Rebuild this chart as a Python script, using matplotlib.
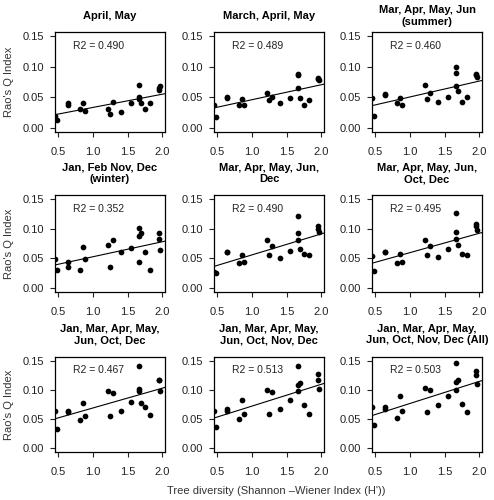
import numpy as np
import matplotlib
matplotlib.use("Agg")
import matplotlib.pyplot as plt

plt.rcParams['font.family'] = ['Liberation Sans', 'DejaVu Sans']

# tree diversity (H') per site, same in every panel
tree_div = [0.45, 0.48, 0.64, 0.64, 0.81, 0.85, 0.89, 1.21, 1.25, 1.29, 1.40,
            1.55, 1.66, 1.67, 1.67, 1.70, 1.75, 1.83, 1.95, 1.96, 1.97]

titles = ["April, May",
          "March, April, May",
          "Mar, Apr, May, Jun\n(summer)",
          "Jan, Feb Nov, Dec\n(winter)",
          "Mar, Apr, May, Jun,\nDec",
          "Mar, Apr, May, Jun,\nOct, Dec",
          "Jan, Mar, Apr, May,\nJun, Oct, Dec",
          "Jan, Mar, Apr, May,\nJun, Oct, Nov, Dec",
          "Jan, Mar, Apr, May,\nJun, Oct, Nov, Dec (All)"]

r2 = ["0.490", "0.489", "0.460", "0.352", "0.490", "0.495", "0.467", "0.513", "0.503"]

rao_apr_may = [0.020, 0.013, 0.040, 0.037, 0.030, 0.040, 0.027, 0.030, 0.023, 0.042, 0.026,
               0.041, 0.070, 0.051, 0.047, 0.040, 0.031, 0.040, 0.062, 0.065, 0.068]
rao_mar_may = [0.038, 0.018, 0.051, 0.048, 0.037, 0.047, 0.037, 0.057, 0.046, 0.051, 0.040,
               0.048, 0.086, 0.088, 0.065, 0.049, 0.037, 0.045, 0.082, 0.080, 0.078]
rao_summer = [0.048, 0.019, 0.055, 0.053, 0.040, 0.048, 0.037, 0.070, 0.047, 0.057, 0.042,
              0.051, 0.099, 0.089, 0.069, 0.060, 0.042, 0.050, 0.088, 0.086, 0.083]
rao_winter = [0.048, 0.030, 0.043, 0.035, 0.030, 0.069, 0.048, 0.073, 0.035, 0.081, 0.060,
              0.067, 0.101, 0.087, 0.044, 0.092, 0.061, 0.030, 0.083, 0.092, 0.064]
rao_summer_dec = [0.027, 0.025, 0.061, 0.060, 0.042, 0.055, 0.044, 0.081, 0.055, 0.070, 0.051,
                  0.063, 0.122, 0.093, 0.081, 0.066, 0.057, 0.055, 0.104, 0.100, 0.094]
rao_summer_oct_dec = [0.054, 0.029, 0.061, 0.060, 0.042, 0.058, 0.043, 0.081, 0.055, 0.070, 0.052,
                      0.066, 0.127, 0.094, 0.083, 0.072, 0.057, 0.055, 0.108, 0.104, 0.097]
rao_jan_dec = [0.063, 0.033, 0.064, 0.062, 0.048, 0.077, 0.056, 0.099, 0.056, 0.094, 0.064,
               0.080, 0.142, 0.101, 0.099, 0.077, 0.071, 0.057, 0.117, 0.117, 0.099]
rao_jan_nov_dec = [0.063, 0.037, 0.067, 0.063, 0.050, 0.082, 0.058, 0.100, 0.058, 0.096, 0.068,
                   0.082, 0.142, 0.109, 0.099, 0.112, 0.074, 0.059, 0.128, 0.118, 0.102]
rao_all = [0.071, 0.039, 0.071, 0.067, 0.052, 0.089, 0.063, 0.104, 0.062, 0.100, 0.074,
           0.089, 0.147, 0.113, 0.100, 0.117, 0.076, 0.062, 0.133, 0.126, 0.110]

series = [rao_apr_may, rao_mar_may, rao_summer, rao_winter, rao_summer_dec,
          rao_summer_oct_dec, rao_jan_dec, rao_jan_nov_dec, rao_all]

W, H = 494, 500
fig = plt.figure(figsize=(W/100, H/100), dpi=100)

lefts = [55, 214, 372]
w = 110
rows = [(32, 132), (195, 292), (357, 452)]
title_y = [16, 173.5, 334.5]
txt = '#222222'

x = np.array(tree_div)
for i in range(9):
    r, c = divmod(i, 3)
    top, bot = rows[r]
    ax = fig.add_axes([lefts[c]/W, 1 - bot/H, w/W, (bot - top)/H])
    y = np.array(series[i])
    ax.scatter(x, y, s=17, color='black', zorder=3, linewidths=0)
    b, a = np.polyfit(x, y, 1)
    ax.axline((0, a), slope=b, color='black', lw=0.8)
    ax.set_xlim(0.45, 2.04)
    ax.set_ylim(-0.007, 0.157)
    ax.set_xticks([0.5, 1.0, 1.5, 2.0])
    ax.set_xticklabels(["0.5", "1.0", "1.5", "2.0"])
    ax.set_yticks([0.0, 0.05, 0.10, 0.15])
    ax.set_yticklabels(["0.00", "0.05", "0.10", "0.15"])
    ax.tick_params(direction='out', length=3.6, width=0.8, labelsize=8, colors=txt)
    ax.tick_params(axis='x', pad=7)
    ax.tick_params(axis='y', pad=4)
    for sp in ax.spines.values():
        sp.set_linewidth(0.9)
    ax.text(0.165, 0.86, "R2 = " + r2[i], transform=ax.transAxes, fontsize=7.5,
            color=txt, va='center')
    fig.text((lefts[c] + w/2)/W, 1 - title_y[r]/H, titles[i], ha='center', va='center',
             fontsize=8, fontweight='bold', linespacing=1.15, color='black')
    if c == 0:
        fig.text(9/W, 1 - (top + bot)/2/H, "Rao's Q Index", rotation=90, ha='center',
                 va='center', fontsize=8, color='#333333')

fig.text(276/W, 1 - 491/H, "Tree diversity (Shannon \u2013Wiener Index (H'))",
         ha='center', va='center', fontsize=8, color='#333333')

fig.savefig("out.png", dpi=100)
